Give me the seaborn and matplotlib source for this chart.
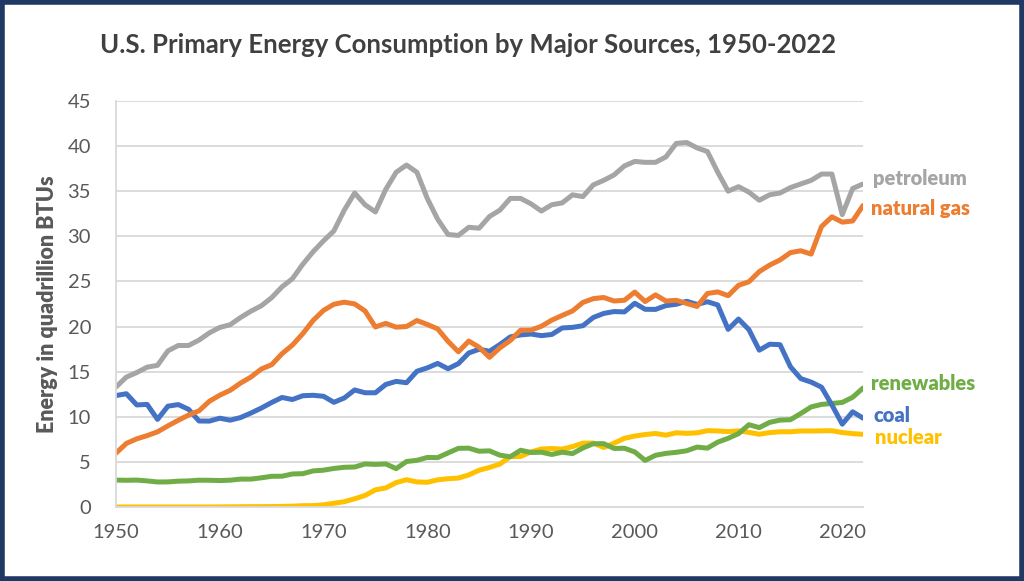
import numpy as np
import pandas as pd
import matplotlib.pyplot as plt
import seaborn as sns

years = list(range(1950, 2023))

petroleum = [13.3, 14.4, 14.9, 15.5, 15.7, 17.3, 17.9, 17.9, 18.5, 19.3,
             19.9, 20.2, 21.0, 21.7, 22.3, 23.2, 24.4, 25.3, 26.9, 28.3,
             29.5, 30.6, 32.9, 34.8, 33.5, 32.7, 35.2, 37.1, 37.9, 37.1,
             34.2, 31.9, 30.2, 30.1, 31.0, 30.9, 32.2, 32.9, 34.2, 34.2,
             33.6, 32.8, 33.5, 33.7, 34.6, 34.4, 35.7, 36.2, 36.8, 37.8,
             38.3, 38.2, 38.2, 38.8, 40.3, 40.4, 39.8, 39.4, 37.1, 35.0,
             35.5, 34.9, 34.0, 34.6, 34.8, 35.4, 35.8, 36.2, 36.9, 36.9,
             32.4, 35.3, 35.8]

natural_gas = [5.97, 7.05, 7.55, 7.91, 8.33, 8.99, 9.61, 10.19, 10.66, 11.72,
               12.39, 12.93, 13.73, 14.40, 15.29, 15.77, 16.99, 17.94, 19.21, 20.68,
               21.79, 22.47, 22.70, 22.51, 21.73, 19.95, 20.35, 19.93, 20.00, 20.67,
               20.23, 19.74, 18.36, 17.20, 18.39, 17.70, 16.59, 17.64, 18.45, 19.60,
               19.60, 20.03, 20.71, 21.23, 21.73, 22.67, 23.09, 23.22, 22.83, 22.91,
               23.82, 22.77, 23.51, 22.83, 22.91, 22.56, 22.22, 23.66, 23.84, 23.42,
               24.57, 24.96, 26.09, 26.81, 27.38, 28.19, 28.40, 28.03, 31.08, 32.16,
               31.57, 31.70, 33.41]

coal = [12.35, 12.55, 11.31, 11.37, 9.71, 11.17, 11.35, 10.82, 9.53, 9.52,
        9.84, 9.62, 9.91, 10.41, 10.96, 11.58, 12.14, 11.91, 12.33, 12.38,
        12.27, 11.60, 12.08, 12.97, 12.66, 12.66, 13.58, 13.92, 13.77, 15.04,
        15.42, 15.91, 15.32, 15.89, 17.07, 17.48, 17.26, 18.01, 18.85, 19.07,
        19.17, 18.99, 19.12, 19.84, 19.91, 20.09, 21.00, 21.45, 21.66, 21.62,
        22.58, 21.91, 21.90, 22.32, 22.47, 22.80, 22.45, 22.75, 22.39, 19.69,
        20.83, 19.66, 17.38, 18.04, 17.99, 15.55, 14.23, 13.84, 13.28, 11.31,
        9.18, 10.55, 9.85]

nuclear = [0.0, 0.0, 0.0, 0.0, 0.0, 0.0, 0.0, 0.0, 0.002, 0.002,
           0.006, 0.02, 0.026, 0.038, 0.04, 0.043, 0.064, 0.088, 0.142, 0.154,
           0.239, 0.413, 0.584, 0.910, 1.272, 1.900, 2.111, 2.702, 3.024, 2.776,
           2.739, 3.008, 3.131, 3.203, 3.553, 4.076, 4.380, 4.754, 5.587, 5.602,
           6.104, 6.422, 6.479, 6.410, 6.694, 7.075, 7.087, 6.597, 7.068, 7.610,
           7.862, 8.029, 8.145, 7.960, 8.223, 8.161, 8.215, 8.459, 8.426, 8.356,
           8.434, 8.269, 8.062, 8.244, 8.338, 8.337, 8.427, 8.419, 8.438, 8.452,
           8.251, 8.131, 8.051]

renewables = [2.98, 2.96, 2.98, 2.89, 2.77, 2.78, 2.86, 2.89, 2.97, 2.96,
              2.93, 2.97, 3.09, 3.09, 3.23, 3.40, 3.41, 3.66, 3.69, 4.00,
              4.08, 4.27, 4.40, 4.43, 4.77, 4.72, 4.77, 4.25, 5.04, 5.17,
              5.49, 5.47, 5.99, 6.50, 6.52, 6.18, 6.22, 5.74, 5.57, 6.29,
              6.04, 6.07, 5.82, 6.07, 5.92, 6.54, 7.01, 7.02, 6.49, 6.51,
              6.10, 5.16, 5.73, 5.94, 6.06, 6.23, 6.64, 6.52, 7.19, 7.61,
              8.13, 9.12, 8.80, 9.38, 9.63, 9.67, 10.36, 11.09, 11.37, 11.47,
              11.59, 12.16, 13.18]

colors = {"petroleum": "#A5A5A5", "natural gas": "#ED7D31", "coal": "#4472C4",
          "nuclear": "#FFC000", "renewables": "#70AD47"}

df = pd.DataFrame({"year": years, "petroleum": petroleum, "natural gas": natural_gas,
                   "coal": coal, "nuclear": nuclear, "renewables": renewables})
long = df.melt(id_vars="year", var_name="source", value_name="quads")

sns.set_style("white")
plt.rcParams["font.family"] = ["Lato", "DejaVu Sans"]

fig = plt.figure(figsize=(10.24, 5.81), dpi=100)
ax = fig.add_axes([0.1133, 0.1274, 0.7295, 0.6988])

# draw back to front like the original
order = ["petroleum", "natural gas", "coal", "renewables", "nuclear"]
sns.lineplot(data=long, x="year", y="quads", hue="source", hue_order=order[::-1],
             palette=colors, linewidth=3.6, legend=False, ax=ax)

ax.set_xlim(1950, 2022)
ax.set_ylim(0, 45)
ax.set_xticks(range(1950, 2021, 10))
ax.set_yticks(range(0, 46, 5))
ax.grid(axis="y", color="#D9D9D9", linewidth=1.3)
ax.set_axisbelow(True)
for s in ["top", "right"]:
    ax.spines[s].set_visible(False)
ax.spines["left"].set_color("#D9D9D9")
ax.spines["bottom"].set_color("#D9D9D9")
ax.spines["left"].set_linewidth(1.3)
ax.spines["bottom"].set_linewidth(1.3)
ax.tick_params(axis="x", direction="in", length=6, color="#D9D9D9", width=1.3,
               labelsize=14.5, labelcolor="#595959", pad=12)
ax.tick_params(axis="y", length=0, labelsize=14.5, labelcolor="#595959", pad=18)
ax.set_xlabel("")
ax.set_ylabel("Energy in quadrillion BTUs", fontsize=15.5, fontweight="heavy",
              color="#595959", labelpad=7)

# end labels
label_pos = {"petroleum": (873, 179), "natural gas": (871, 208), "renewables": (871, 383),
             "coal": (873, 415), "nuclear": (875, 438)}
for name, (px, py) in label_pos.items():
    fig.text(px / 1024, 1 - py / 581, name, color=colors[name], fontsize=14.5,
             fontweight="heavy", ha="left", va="center")

fig.text(468 / 1024, 1 - 45 / 581, "U.S. Primary Energy Consumption by Major Sources, 1950-2022",
         ha="center", va="center", fontsize=18.5, fontweight="bold", color="#404040")

# dark frame around the chart
fig.patches.append(plt.Rectangle((0.002, 0.003), 0.996, 0.994, transform=fig.transFigure,
                                 fill=False, edgecolor="#1F3864", linewidth=4))

fig.savefig("out.png", dpi=100, facecolor="white")
